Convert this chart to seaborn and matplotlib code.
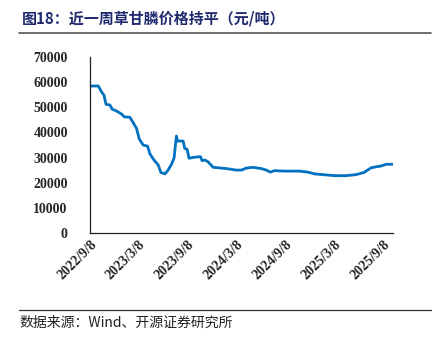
import matplotlib
matplotlib.use("Agg")
import matplotlib.pyplot as plt
import seaborn as sns
import pandas as pd

# Glyphosate price, CNY per tonne
dates = [
    "2022-09-08", "2022-10-09", "2022-10-21", "2022-10-30", "2022-11-07", "2022-11-21",
    "2022-11-30", "2022-12-16", "2023-01-04", "2023-01-14", "2023-02-04", "2023-02-14",
    "2023-03-01", "2023-03-11", "2023-03-26", "2023-04-11", "2023-04-20", "2023-05-05",
    "2023-05-21", "2023-05-31", "2023-06-15", "2023-06-27", "2023-07-10", "2023-07-19",
    "2023-07-28", "2023-08-01", "2023-08-22", "2023-08-28", "2023-09-06", "2023-09-13",
    "2023-10-04", "2023-10-26", "2023-11-01", "2023-11-11", "2023-11-23", "2023-12-12",
    "2024-01-31", "2024-03-08", "2024-03-27", "2024-04-14", "2024-05-09", "2024-06-09",
    "2024-06-28", "2024-07-13", "2024-07-29", "2024-08-29", "2024-10-30", "2024-11-30",
    "2024-12-25", "2025-01-25", "2025-03-09", "2025-04-22", "2025-05-29", "2025-06-29",
    "2025-07-11", "2025-07-24", "2025-08-12", "2025-08-30", "2025-09-18", "2025-10-13",
]
prices = [
    58400, 58400, 56100, 54800, 51100, 50900,
    49200, 48500, 47300, 46200, 46000, 44300,
    41600, 37400, 35000, 34600, 31500, 29100,
    27100, 24100, 23600, 25100, 27500, 29800,
    38600, 36600, 36600, 33700, 33300, 29800,
    30200, 30400, 28800, 29100, 28400, 26200,
    25700, 25100, 25100, 25900, 26200, 25700,
    25100, 24300, 24900, 24700, 24700, 24300,
    23600, 23300, 22900, 22900, 23300, 24200,
    25100, 26000, 26400, 26700, 27400, 27400,
]
tick_dates = ["2022-09-08", "2023-03-08", "2023-09-08", "2024-03-08",
              "2024-09-08", "2025-03-08", "2025-09-08"]
tick_labels = ["2022/9/8", "2023/3/8", "2023/9/8", "2024/3/8",
               "2024/9/8", "2025/3/8", "2025/9/8"]
y_ticks = [0, 10000, 20000, 30000, 40000, 50000, 60000, 70000]

df = pd.DataFrame({"date": pd.to_datetime(dates), "price": prices})

sns.set_style("white")
plt.rcParams["font.family"] = ["Noto Sans CJK SC", "DejaVu Sans"]

fig = plt.figure(figsize=(4.39, 3.45), dpi=100)
ax = fig.add_axes([0.205, 0.3232, 0.6895, 0.5125])

sns.lineplot(data=df, x="date", y="price", ax=ax, color="#0070C0", linewidth=2.0)

ax.set_xlim(df["date"].iloc[0], df["date"].iloc[-1])
ax.set_ylim(0, 70000)
ax.set_yticks(y_ticks)
ax.set_yticklabels([str(v) for v in y_ticks])
ax.set_xticks(pd.to_datetime(tick_dates))
ax.set_xticklabels(tick_labels)
ax.set_xlabel("")
ax.set_ylabel("")

for side in ("top", "right"):
    ax.spines[side].set_visible(False)
for side in ("left", "bottom"):
    ax.spines[side].set_color("#222222")
    ax.spines[side].set_linewidth(0.9)

ax.tick_params(axis="both", direction="in", length=3.5, width=0.8, color="#444444")
ax.tick_params(axis="y", pad=16)
ax.tick_params(axis="x", pad=3)

for lab in ax.get_yticklabels():
    lab.set_family("Liberation Serif")
    lab.set_fontweight("bold")
    lab.set_fontsize(10)
for lab in ax.get_xticklabels():
    lab.set_family("Liberation Serif")
    lab.set_fontweight("bold")
    lab.set_fontsize(10)
    lab.set_rotation(45)
    lab.set_ha("right")
    lab.set_rotation_mode("anchor")

# Title and rules
fig.text(22 / 439, 1 - 18 / 345, "图18：近一周草甘膦价格持平（元/吨）",
         fontsize=10.8, fontweight="bold", color="#1F2A6E",
         family=["Noto Sans CJK SC", "DejaVu Sans"], va="center", ha="left")
fig.add_artist(plt.Line2D([19 / 439, 431 / 439], [1 - 32.5 / 345, 1 - 32.5 / 345],
                          color="#555555", linewidth=1.2))
fig.add_artist(plt.Line2D([19 / 439, 431 / 439], [1 - 309.5 / 345, 1 - 309.5 / 345],
                          color="#333333", linewidth=0.9))
fig.text(19 / 439, 1 - 323 / 345, "数据来源：Wind、开源证券研究所",
         fontsize=10, color="#222222",
         family=["Noto Sans CJK SC", "DejaVu Sans"], va="center", ha="left")

fig.savefig("out.png", dpi=100, facecolor="white")
